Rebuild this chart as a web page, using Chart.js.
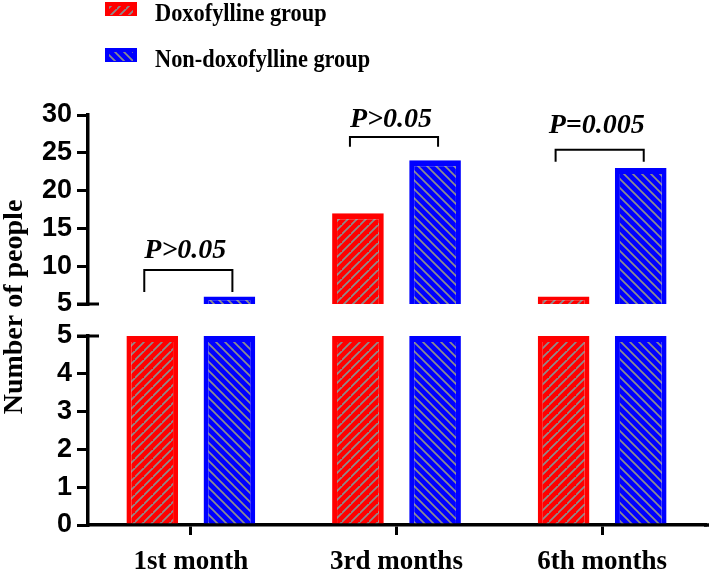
<!DOCTYPE html>
<html><head><meta charset="utf-8">
<script src="https://cdn.jsdelivr.net/npm/chart.js@4.4.1/dist/chart.umd.min.js"></script>
<style>html,body{margin:0;padding:0;background:#fff;} #wrap{position:relative;width:709px;height:569px;}</style>
</head><body><div id="wrap"><canvas id="c" width="709" height="569"></canvas></div>
<script>
const categories = ['1st month', '3rd months', '6th months'];
const doxofylline = [5, 17, 6];
const nonDoxofylline = [6, 24, 23];
const seriesNames = ['Doxofylline group', 'Non-doxofylline group'];
const highRange = [5, 30, 5];   // min, max, step of the upper segment
const lowRange = [0, 5, 1];     // min, max, step of the lower segment
const BREAK = 5;
const pLabels = ['P>0.05', 'P>0.05', 'P=0.005'];
const bracketTop = [9.5, 27.1, 25.4];
const bracketFoot = [6.6, 25.8, 23.8];
const pLabelLevel = [11.1, 28.4, 27.6];

const RED = '#ff0000', BLUE = '#0000ff', HATCH = '#8c8c8c';
function makeHatch(fill, dir) {
  const s = 9;
  const c = document.createElement('canvas');
  c.width = s; c.height = s;
  const g = c.getContext('2d');
  g.fillStyle = fill; g.fillRect(0, 0, s, s);
  g.strokeStyle = HATCH; g.lineWidth = 1.7; g.lineCap = 'square';
  g.beginPath();
  if (dir === '/') {
    g.moveTo(0, s); g.lineTo(s, 0);
    g.moveTo(-s, s); g.lineTo(0, 0);
    g.moveTo(s, 2 * s); g.lineTo(2 * s, s);
  } else {
    g.moveTo(0, 0); g.lineTo(s, s);
    g.moveTo(-s, 0); g.lineTo(0, s);
    g.moveTo(s, 0); g.lineTo(2 * s, s);
  }
  g.stroke();
  return g.createPattern(c, 'repeat');
}
const ctx0 = document.getElementById('c').getContext('2d');
const redPat = makeHatch(RED, '/');
const bluePat = makeHatch(BLUE, '\\');

const barStyle = (pat, col) => ({
  backgroundColor: pat, borderColor: col,
  borderWidth: {top: 6, left: 5, right: 5, bottom: 0},
  borderSkipped: 'start',
  barPercentage: 0.67, categoryPercentage: 0.75
});

const low = v => Math.min(v, BREAK);
const high = v => (v > BREAK ? [BREAK, v] : null);

const serif = '"Liberation Serif", "Times New Roman", serif';
const sans = '"Liberation Sans", Arial, sans-serif';

const overlay = {
  id: 'overlay',
  afterDraw(chart) {
    const ctx = chart.ctx;
    const yH = chart.scales.yHigh, yL = chart.scales.yLow;
    const area = chart.chartArea;
    const ax = area.left;
    ctx.save();
    ctx.strokeStyle = '#000'; ctx.lineWidth = 3;
    // axis break marks
    [yH.getPixelForValue(BREAK), yL.getPixelForValue(BREAK)].forEach(py => {
      ctx.beginPath(); ctx.moveTo(ax - 11, py); ctx.lineTo(ax + 11, py); ctx.stroke();
    });
    // x axis runs to the right edge
    ctx.lineWidth = 3.5;
    ctx.beginPath(); ctx.moveTo(area.right - 1, area.bottom); ctx.lineTo(area.right + 4, area.bottom); ctx.stroke();
    // significance brackets
    const m0 = chart.getDatasetMeta(0), m1 = chart.getDatasetMeta(1);
    ctx.lineWidth = 2;
    ctx.fillStyle = '#000';
    ctx.font = 'italic bold 28px ' + serif;
    ctx.textAlign = 'center'; ctx.textBaseline = 'alphabetic';
    for (let i = 0; i < categories.length; i++) {
      const xl = m0.data[i].x - 8, xr = m1.data[i].x + 3;
      const yt = yH.getPixelForValue(bracketTop[i]);
      const yf = yH.getPixelForValue(bracketFoot[i]);
      ctx.beginPath();
      ctx.moveTo(xl, yf); ctx.lineTo(xl, yt); ctx.lineTo(xr, yt); ctx.lineTo(xr, yf);
      ctx.stroke();
      ctx.fillText(pLabels[i], (xl + xr) / 2 - 3, yH.getPixelForValue(pLabelLevel[i]));
    }
    // y axis title
    ctx.save();
    ctx.translate(15, 307); ctx.rotate(-Math.PI / 2);
    ctx.font = 'bold 28px ' + serif;
    ctx.textAlign = 'center'; ctx.textBaseline = 'middle';
    ctx.fillText('Number of people', 0, 0);
    ctx.restore();
    // legend
    const items = [[redPat, RED, seriesNames[0], 2], [bluePat, BLUE, seriesNames[1], 48]];
    items.forEach(([pat, col, name, y]) => {
      ctx.fillStyle = col; ctx.fillRect(105, y, 32, 14);
      ctx.fillStyle = pat; ctx.fillRect(109, y + 4, 24, 9);
      ctx.save();
      ctx.translate(155, y + 19);
      ctx.scale(0.86, 1);
      ctx.font = 'bold 26px ' + serif;
      ctx.textAlign = 'left'; ctx.textBaseline = 'alphabetic';
      ctx.fillStyle = '#000'; ctx.fillText(name, 0, 0);
      ctx.restore();
    });
    ctx.restore();
  }
};

const yAxisBase = (min, max, step, weight, stackWeight) => ({
  type: 'linear', position: 'left', stack: 'y', stackWeight, weight,
  min, max, stacked: false,
  afterFit(s) { s.width = 88; },
  ticks: {stepSize: step, autoSkip: false, color: '#000', padding: 5, font: {family: sans, size: 27, weight: 'bold'}},
  grid: {display: true, drawOnChartArea: false, drawTicks: true, tickLength: 11, color: '#000', lineWidth: 3},
  border: {display: true, color: '#000', width: 3.5}
});

new Chart(ctx0, {
  type: 'bar',
  data: {
    labels: categories,
    datasets: [
      Object.assign({label: seriesNames[0], data: doxofylline.map(low), yAxisID: 'yLow', stack: 'a'}, barStyle(redPat, RED)),
      Object.assign({label: seriesNames[1], data: nonDoxofylline.map(low), yAxisID: 'yLow', stack: 'b'}, barStyle(bluePat, BLUE)),
      Object.assign({label: seriesNames[0], data: doxofylline.map(high), yAxisID: 'yHigh', stack: 'a'}, barStyle(redPat, RED)),
      Object.assign({label: seriesNames[1], data: nonDoxofylline.map(high), yAxisID: 'yHigh', stack: 'b'}, barStyle(bluePat, BLUE))
    ]
  },
  options: {
    responsive: false, animation: false, devicePixelRatio: 1,
    layout: {padding: {top: 115, right: 4, left: 0, bottom: 0}},
    plugins: {legend: {display: false}, tooltip: {enabled: false}},
    scales: {
      x: {
        type: 'category', position: 'bottom',
        afterFit(s) { s.height = 44; },
        ticks: {color: '#000', padding: 11, font: {family: serif, size: 27, weight: 'bold'}},
        grid: {display: true, drawOnChartArea: false, offset: false, drawTicks: true, tickLength: 10, color: '#000', lineWidth: 3},
        border: {display: true, color: '#000', width: 3.5}
      },
      yHigh: yAxisBase(highRange[0], highRange[1], highRange[2], 3, 189),
      yGap: {
        type: 'linear', position: 'left', stack: 'y', stackWeight: 32, weight: 2,
        min: 0, max: 1, afterFit(s) { s.width = 88; },
        ticks: {display: false}, grid: {display: false}, border: {display: false}
      },
      yLow: yAxisBase(lowRange[0], lowRange[1], lowRange[2], 1, 189)
    }
  },
  plugins: [overlay]
});
</script></body></html>
